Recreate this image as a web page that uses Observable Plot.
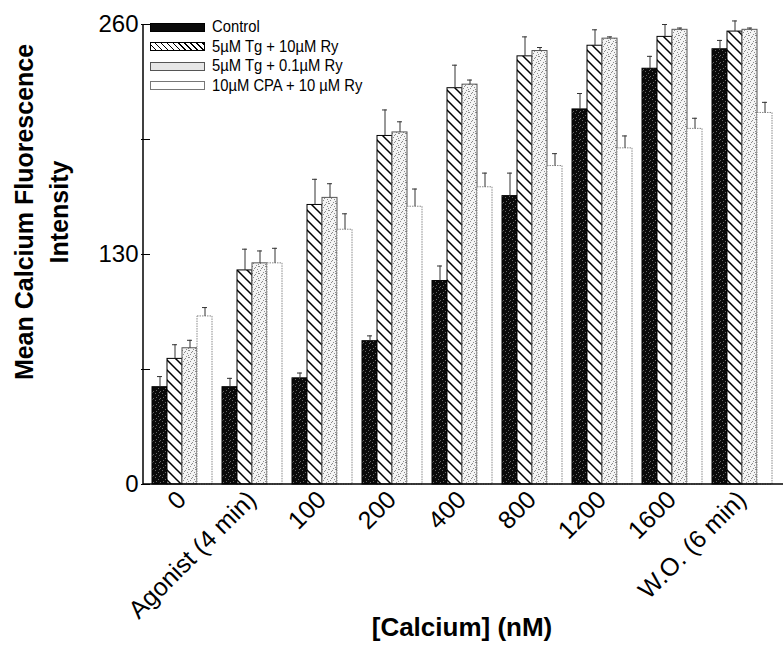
<!DOCTYPE html>
<html><head><meta charset="utf-8">
<script src="https://cdn.jsdelivr.net/npm/d3@7"></script>
<script src="https://cdn.jsdelivr.net/npm/@observablehq/plot@0.6"></script>
<style>
html,body{margin:0;padding:0;background:#fff;overflow:hidden}
#wrap{position:relative;width:783px;height:649px}
.legend{position:absolute;left:150px;top:0;font-family:"Liberation Sans",Arial,sans-serif;font-size:17px;color:#000}
.row{position:absolute;left:0;white-space:nowrap;display:flex;align-items:center;height:20px}
.sw{width:55px;height:9px;box-sizing:border-box;margin-right:7px;flex:none}
.row span{display:inline-block;transform:scaleX(0.87);transform-origin:left center}
</style></head><body><div id="wrap"></div>
<script>
const categories = ["0","Agonist (4 min)","100","200","400","800","1200","1600","W.O. (6 min)"];
const seriesNames = ["Control","5µM Tg + 10µM Ry","5µM Tg + 0.1µM Ry","10µM CPA + 10 µM Ry"];
const control      = [55, 55, 60, 81, 115, 163, 212, 235, 246];
const controlErr   = [6, 5, 3, 3, 8.5, 13, 9, 7, 5];
const tgRy10       = [71, 121, 158, 197, 224, 242, 248, 253, 256];
const tgRy10Err    = [8, 12, 14.5, 14.7, 13, 11, 9, 7, 6];
const tgRy01       = [77, 125, 162, 199, 226, 245, 252, 257, 257];
const tgRy01Err    = [4.5, 7, 8, 6, 2.6, 2, 1, 1, 1];
const cpaRy10      = [95, 125, 144, 157, 168, 180, 190, 201, 210];
const cpaRy10Err   = [5, 8.5, 9, 10, 8, 7, 7, 6, 6];
const yTicks = [0, 65, 130, 195, 260];
const yTickLabels = ["0", "", "130", "", "260"];
const yTitle = ["Mean Calcium Fluorescence", "Intensity"];
const xTitle = "[Calcium] (nM)";

const values = [control, tgRy10, tgRy01, cpaRy10];
const errs = [controlErr, tgRy10Err, tgRy01Err, cpaRy10Err];
const data = [];
categories.forEach((c, i) => values.forEach((v, j) =>
  data.push({cat: c, series: seriesNames[j], value: v[i], err: errs[j][i]})));

const styles = [
  {fill: "url(#speckle)", stroke: "#000", strokeWidth: 1},
  {fill: "url(#hatch)", stroke: "#000", strokeWidth: 1},
  {fill: "url(#dots)", stroke: "#555", strokeWidth: 1},
  {fill: "#fff", stroke: "#888", strokeWidth: 1, strokeDasharray: "1.5,1"}
];

const font = '"Liberation Sans", Arial, sans-serif';
const plot = Plot.plot({
  width: 783, height: 649,
  marginLeft: 143, marginRight: 3, marginTop: 24, marginBottom: 165,
  style: {fontFamily: font, fontSize: "24px", color: "#000", background: "#fff", overflow: "visible"},
  fx: {domain: categories, paddingInner: 0.0935, paddingOuter: 0.057, label: null, tickRotate: -45, tickSize: 0, tickPadding: 11, fontSize: 25},
  x: {domain: seriesNames, padding: 0, axis: null},
  y: {domain: [0, 260], ticks: yTicks, tickFormat: (d) => yTickLabels[yTicks.indexOf(d)], tickSize: 9, tickPadding: 3, label: null},
  marks: [
    ...seriesNames.map((s, j) => Plot.barY(data.filter(d => d.series === s), {fx: "cat", x: "series", y: "value", ...styles[j]})),
    Plot.ruleX(data, {fx: "cat", x: "series", y1: "value", y2: d => d.value + d.err, stroke: "#333", strokeWidth: 1}),
    Plot.tickY(data, {fx: "cat", x: "series", y: d => d.value + d.err, insetLeft: 5, insetRight: 5, stroke: "#333", strokeWidth: 1})
  ]
});

const svg = d3.select(plot);
svg.selectAll("[aria-label='fx-axis tick label'] text, [aria-label='fx-axis tick label']").attr("font-size", 25);
const defs = svg.insert("defs", ":first-child");
const sp = defs.append("pattern").attr("id", "speckle").attr("patternUnits", "userSpaceOnUse").attr("width", 7).attr("height", 7);
sp.append("rect").attr("width", 7).attr("height", 7).attr("fill", "#0a0a0a");
[[1,1],[4,3],[2,5],[6,6],[5,0]].forEach(([a,b]) => sp.append("rect").attr("x", a).attr("y", b).attr("width", 1).attr("height", 1).attr("fill", "#666"));
const ht = defs.append("pattern").attr("id", "hatch").attr("patternUnits", "userSpaceOnUse").attr("width", 10).attr("height", 10);
ht.append("rect").attr("width", 10).attr("height", 10).attr("fill", "#fff");
ht.append("path").attr("d", "M-2,-2L12,12M-2,8L2,12M8,-2L12,2").attr("stroke", "#000").attr("stroke-width", 1.5);
const dt = defs.append("pattern").attr("id", "dots").attr("patternUnits", "userSpaceOnUse").attr("width", 7).attr("height", 7);
dt.append("rect").attr("width", 7).attr("height", 7).attr("fill", "#f4f4f4");
[[0,0],[3,1],[5,3],[1,4],[4,6],[6,0],[2,2],[6,5]].forEach(([a,b]) => dt.append("rect").attr("x", a).attr("y", b).attr("width", 1).attr("height", 1).attr("fill", "#8a8a8a"));

const yS = plot.scale("y");
const y0 = yS.apply(0), y1 = yS.apply(260);
svg.append("line").attr("x1", 143).attr("x2", 783).attr("y1", y0).attr("y2", y0).attr("stroke", "#000").attr("stroke-width", 1.5);
svg.append("line").attr("x1", 143).attr("x2", 143).attr("y1", y1).attr("y2", y0).attr("stroke", "#000").attr("stroke-width", 1.5);

const yt = svg.append("text").attr("transform", `translate(0,212) rotate(-90)`)
  .attr("text-anchor", "middle").attr("font-family", font).attr("font-weight", "bold").attr("font-size", 25);
yt.append("tspan").attr("x", 0).attr("y", 33).text(yTitle[0]);
yt.append("tspan").attr("x", 0).attr("y", 68).text(yTitle[1]);
svg.append("text").attr("x", 462).attr("y", 636).attr("text-anchor", "middle").attr("font-family", font)
  .attr("font-weight", "bold").attr("font-size", 26).text(xTitle);

const wrap = document.getElementById("wrap");
wrap.appendChild(plot);

const legend = document.createElement("div");
legend.className = "legend";
const swStyles = [
  "background:#0a0a0a;border:1px solid #000",
  "background:repeating-linear-gradient(45deg,#fff 0 3px,#000 3px 4.2px);border:1px solid #000",
  "background:#e6e6e6;border:1px solid #555",
  "background:#fff;border:1px solid #777"
];
seriesNames.forEach((s, j) => {
  const r = document.createElement("div");
  r.className = "row";
  r.style.top = (17 + j * 19.5) + "px";
  r.innerHTML = `<div class="sw" style="${swStyles[j]}"></div><span>${s}</span>`;
  legend.appendChild(r);
});
wrap.appendChild(legend);
</script></body></html>
